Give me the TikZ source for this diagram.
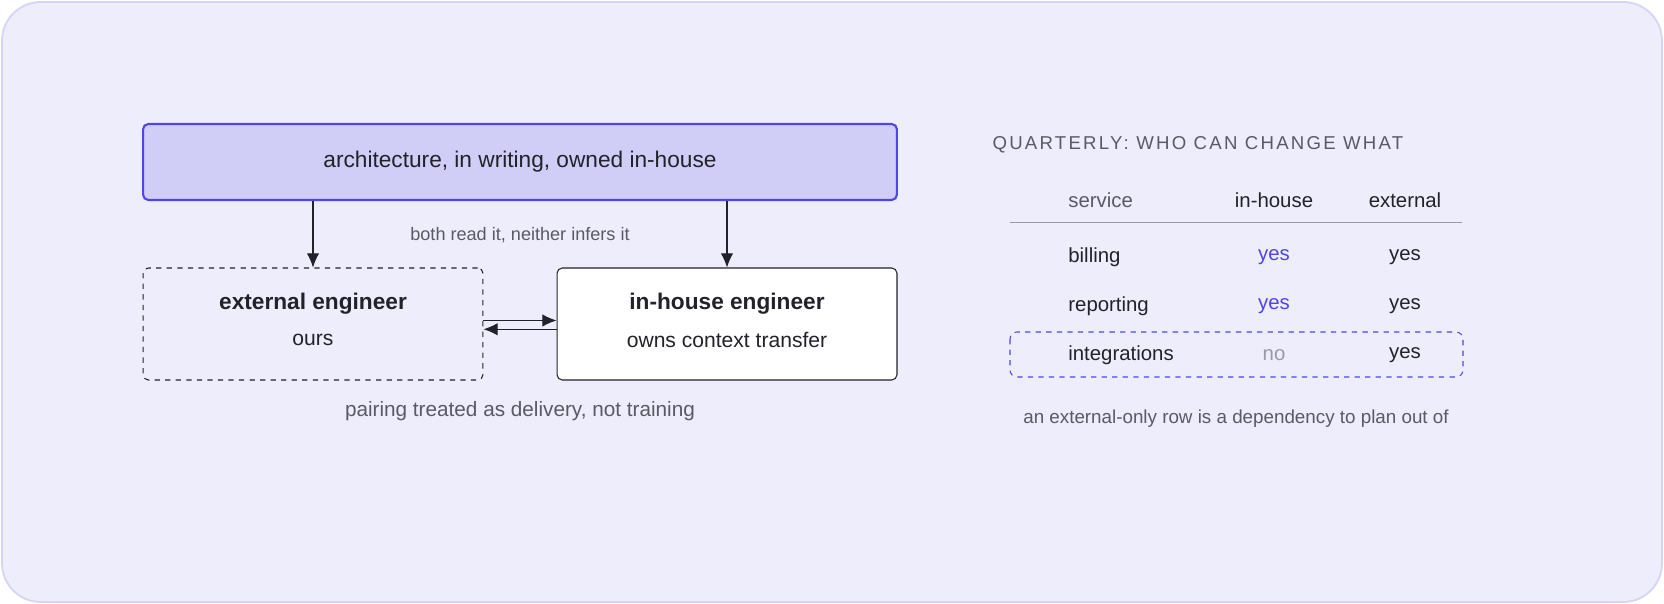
\documentclass[tikz,border=0pt]{standalone}
\usepackage{fontspec}
\setmainfont{Liberation Sans}
\usetikzlibrary{positioning, arrows.meta}
\definecolor{bgfill}{HTML}{EEEDFB}
\definecolor{bgline}{HTML}{D6D4F2}
\definecolor{archfill}{HTML}{D0CDF6}
\definecolor{indigo}{HTML}{4F46E5}
\definecolor{ink}{HTML}{22222A}
\definecolor{muted}{HTML}{5A5A66}
\definecolor{faint}{HTML}{9A9AA6}
\begin{document}
\begin{tikzpicture}[x=0.02cm, y=-0.02cm, -{Latex[length=8pt,width=7pt]},
      semithick, ink,
      box/.style={draw=ink, rounded corners=3pt, minimum width=6.8cm, minimum height=2.24cm, align=center},
      note/.style={font=\fontsize{10.3}{12}\selectfont, text=muted},
      cell/.style={font=\fontsize{11.6}{13}\selectfont, text=ink},
      lcell/.style={cell, anchor=west}]
      % background
      \draw[-, draw=bgline, fill=bgfill, rounded corners=22pt, line width=1pt] (2,2) rectangle (1662,602);
      \useasboundingbox (0,0) rectangle (1664,604);
      % architecture, two engineers
      \node[box, draw=indigo, fill=archfill, line width=1.2pt, minimum width=15.08cm, minimum height=1.52cm,
            font=\fontsize{12.9}{15}\selectfont] (arch) at(520,162) {architecture, in writing, owned in-house};
      \node[box, dashed, fill=bgfill] (ext) at(313,324) {};
      \node[font=\bfseries\fontsize{12.9}{15}\selectfont] (ext_t) at(313,304) {external engineer};
      \node[font=\fontsize{12}{14}\selectfont] (ext_s) at(313,340) {ours};
      \node[box, fill=white] (inh) at(727,324) {};
      \node[font=\bfseries\fontsize{12.9}{15}\selectfont] (inh_t) at(727,304) {in-house engineer};
      \node[font=\fontsize{12}{14}\selectfont] (inh_s) at(727,340) {owns context transfer};
      \draw (arch.south -| ext.north) -- (ext.north);
      \draw (arch.south -| inh.north) -- (inh.north);
      \draw ([yshift=2pt]ext.east) -- ([yshift=2pt]inh.west);
      \draw ([yshift=-3pt]inh.west) -- ([yshift=-3pt]ext.east);
      \node[note] (both) at(520,235) {both read it, neither infers it};
      \node[note, font=\fontsize{11.8}{14}\selectfont] (pair) at(520,411) {pairing treated as delivery, not training};
      % quarterly table
      \node[anchor=west, text=muted, font=\fontsize{10.6}{12}\selectfont, inner sep=0pt] (qt) at(992,145)
            {\addfontfeature{LetterSpace=12}QUARTERLY: WHO CAN CHANGE WHAT};
      \node[lcell, text=muted] (h_svc) at(1062,200) {service};
      \node[cell] (h_in) at(1274,200) {in-house};
      \node[cell] (h_ex) at(1405,200) {external};
      \coordinate (rule_l) at(1010,222);
      \coordinate (rule_r) at(1462,222);
      \draw[-, faint, thin] (rule_l) -- (rule_r);
      \node[lcell] (r1) at(1062,257) {billing};
      \node[cell, text=indigo] (r1_in) at(1274,257) {yes};
      \node[cell] (r1_ex) at(1405,257) {yes};
      \node[lcell] (r2) at(1062,306) {reporting};
      \node[cell, text=indigo] (r2_in) at(1274,306) {yes};
      \node[cell] (r2_ex) at(1405,306) {yes};
      \node[lcell] (r3) at(1062,355) {integrations};
      \node[cell, text=faint] (r3_in) at(1274,355) {no};
      \node[cell] (r3_ex) at(1405,355) {yes};
      \draw[-, indigo, dashed, rounded corners=4pt] (1010,332) rectangle (1463,377);
      \node[note, font=\fontsize{10.7}{13}\selectfont] (foot) at(1236,419) {an external-only row is a dependency to plan out of};
  \end{tikzpicture}
\end{document}
